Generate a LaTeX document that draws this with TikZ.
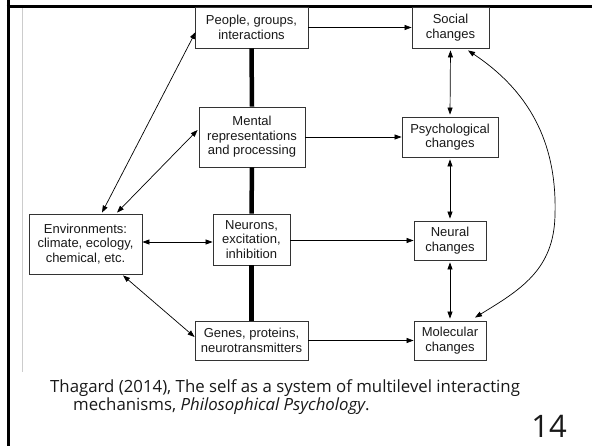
\documentclass[tikz,border=0pt]{standalone}
\usepackage{fontspec}
\setmainfont{Liberation Sans}
\newfontfamily\capfont{Open Sans}
\usetikzlibrary{arrows.meta,calc}
\begin{document}
\begin{tikzpicture}[x=1pt,y=-1pt,
  box/.style={draw=black!80,line width=0.8pt,align=center,inner sep=0pt,
    font=\fontsize{13}{14.5}\selectfont,text=black!90},
  conn/.style={line width=0.7pt,-{Triangle[length=7pt,width=5pt]}},
  biconn/.style={line width=0.7pt,{Triangle[length=7pt,width=5pt]}-{Triangle[length=7pt,width=5pt]}},
  thick link/.style={line width=4.5pt},
]
\useasboundingbox (0,0) rectangle (592,446);
\fill[white] (0,0) rectangle (592,446);
% frame
\draw[black!20,line width=1pt] (22,8) -- (22,372);
\draw[black,line width=3pt] (8,0) -- (8,446);
\draw[black,line width=3pt] (6.5,7) -- (592,7);

% nodes
\node[box,minimum width=113pt,minimum height=41pt] (people) at (251.5,27.5) {People, groups,\\interactions};
\node[box,minimum width=77pt,minimum height=41pt] (social) at (450.5,27.5) {Social\\changes};
\node[box,minimum width=106pt,minimum height=60pt] (mental) at (252,137) {Mental\\representations\\and processing};
\node[box,minimum width=96pt,minimum height=40pt] (psych) at (450,137) {Psychological\\changes};
\node[box,minimum width=113pt,minimum height=60pt] (env) at (85.5,244) {Environments:\\climate, ecology,\\chemical, etc.};
\node[box,minimum width=77pt,minimum height=51pt] (neurons) at (251.5,239.5) {Neurons,\\excitation,\\inhibition};
\node[box,minimum width=72pt,minimum height=39pt] (neural) at (450,240.5) {Neural\\changes};
\node[box,minimum width=113pt,minimum height=39pt] (genes) at (251.5,340.5) {Genes, proteins,\\neurotransmitters};
\node[box,minimum width=72pt,minimum height=39pt] (molec) at (450,340.5) {Molecular\\changes};

% thick vertical links
\draw[thick link] (people.south) -- (mental.north);
\draw[thick link] (mental.south) -- (neurons.north);
\draw[thick link] (neurons.south) -- (genes.north);

% horizontal arrows
\draw[conn] (people.east) -- (social.west);
\draw[conn] (mental.east) -- (psych.west);
\draw[conn] (neurons.east |- neural.west) -- (neural.west);
\draw[conn] (genes.east |- molec.west) -- (molec.west);

% right column
\draw[biconn,shorten <=2pt,shorten >=2pt] (social.south) -- (psych.north);
\draw[biconn,shorten <=2pt,shorten >=2pt] (psych.south) -- (neural.north);
\draw[biconn,shorten <=2pt,shorten >=2pt] (neural.south) -- (molec.north);

% environment links
\draw[biconn] ($(env.north)+(16.5,-1)$) -- ($(people.west)+(1,4.5)$);
\draw[biconn] ($(env.north)+(31.5,-1)$) -- ($(mental.west)+(-1,-7)$);
\draw[biconn] ($(env.east)+(0,-2)$) -- ($(neurons.west)+(0,2.5)$);
\draw[biconn] ($(env.south)+(37.5,1)$) -- ($(genes.west)+(0,-3.5)$);

% curved link
\draw[biconn] ($(social.south)+(17.5,2)$) .. controls (535,95) and (557,150) .. (555,215)
  .. controls (554,270) and (520,290) .. ($(molec.north)+(25,-3)$);

% caption
\node[anchor=base west,inner sep=0pt,font=\capfont\fontsize{16.8}{18}\selectfont,text=black!90] (cap1) at (50,392) {Thagard (2014), The self as a system of multilevel interacting};
\node[anchor=base west,inner sep=0pt,font=\capfont\fontsize{16.8}{18}\selectfont,text=black!90] (cap2) at (73,410) {mechanisms, \textit{Philosophical Psychology}.};
\node[anchor=base east,inner sep=0pt,font=\capfont\fontsize{31}{31}\selectfont,text=black!90] (num) at (567,437) {14};
\end{tikzpicture}
\end{document}
